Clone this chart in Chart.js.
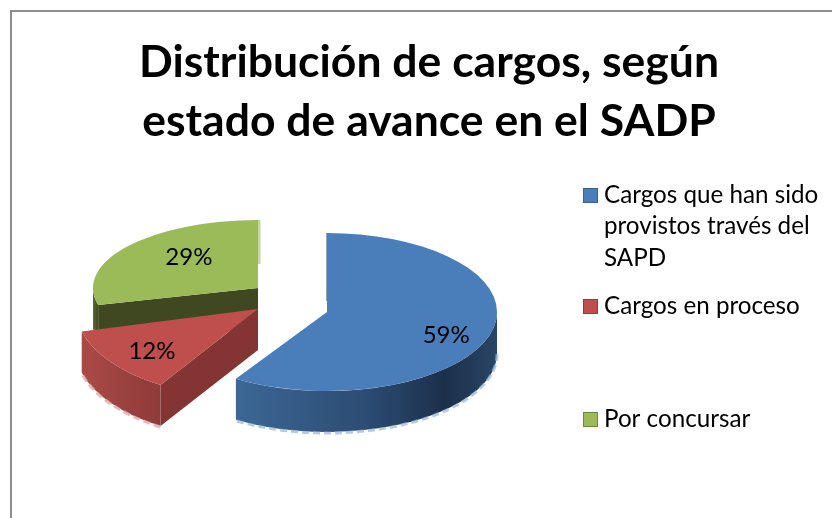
<!DOCTYPE html>
<html>
<head>
<meta charset="utf-8">
<title>Distribución de cargos</title>
<script src="https://cdn.jsdelivr.net/npm/chart.js@4"></script>
<style>
    html, body { margin: 0; padding: 0; background: #ffffff; }
    canvas { display: block; }
</style>
</head>
<body>
<canvas id="pieChart" width="832" height="518"></canvas>
<script>
// Chart data
var titleLines = ['Distribución de cargos, según', 'estado de avance en el SADP'];
var categories = ['Cargos que han sido provistos través del SAPD', 'Cargos en proceso', 'Por concursar'];
var legendLines = [['Cargos que han sido', 'provistos través del', 'SAPD'], ['Cargos en proceso'], ['Por concursar']];
var percentValues = [59, 12, 29];

// Colours of each slice
var topColors = ['#4a7ebb', '#be4f4c', '#9bbb59'];
var swatchBorders = ['#39638f', '#933c3a', '#6f8a3c'];
var faceColors = ['#27425f', '#843432', '#404822'];
var fringeColors = ['rgba(150,180,215,0.7)', 'rgba(225,170,170,0.8)', 'rgba(190,210,150,0.6)'];
var rimColors = ['#2a4a70', null, '#c4d6a0'];
var sideStops = [
    [[0, '#3c6795'], [0.5, '#2c4c73'], [0.8, '#1c304b'], [1, '#2a4566']],
    [[0, '#aa4a47'], [1, '#8e3b39']],
    [[0, '#5b6b2e'], [1, '#404822']]
];

// Where each exploded slice sits on the page (3D look, tilted ellipse + depth)
var sliceLayout = [
    {cx: 327, cy: 312, rx: 170, ry: 79, depth: 41, labelR: 0.73, labelDy: 7, rimLen: 68},
    {cx: 258, cy: 309, rx: 182, ry: 90, depth: 41, labelR: 0.72, labelDy: 4, rimLen: 0},
    {cx: 258, cy: 288, rx: 165, ry: 68, depth: 40, labelR: 0.53, labelDy: -9, rimLen: 44}
];
var drawOrder = [2, 0, 1];

// Legend placement
var legendX = 583;
var legendTextX = 604;
var legendRowY = [195, 306, 419];
var legendLineGap = 31.5;

function drawSide(ctx, arc, i) {
    var s = sliceLayout[i];
    var a = Math.max(arc.startAngle, 0);
    var b = Math.min(arc.endAngle, Math.PI);
    var startA = arc.startAngle;

    // cut face, only when it looks towards the viewer
    if (-Math.cos(startA) > 0.01) {
        var ox = s.cx + s.rx * Math.cos(startA);
        var oy = s.cy + s.ry * Math.sin(startA);
        ctx.fillStyle = faceColors[i];
        ctx.beginPath();
        ctx.moveTo(s.cx, s.cy);
        ctx.lineTo(ox, oy);
        ctx.lineTo(ox, oy + s.depth);
        ctx.lineTo(s.cx, s.cy + s.depth);
        ctx.closePath();
        ctx.fill();
    }

    if (b <= a) {
        return;
    }

    // outer wall
    var x0 = s.cx + s.rx * Math.cos(b);
    var x1 = s.cx + s.rx * Math.cos(a);
    var grad = ctx.createLinearGradient(x0, 0, x1, 0);
    sideStops[i].forEach(function (st) {
        grad.addColorStop(st[0], st[1]);
    });
    ctx.fillStyle = grad;
    ctx.beginPath();
    ctx.ellipse(s.cx, s.cy, s.rx, s.ry, 0, a, b);
    ctx.ellipse(s.cx, s.cy + s.depth, s.rx, s.ry, 0, b, a, true);
    ctx.closePath();
    ctx.fill();

    // pale rough edge under the wall
    ctx.strokeStyle = fringeColors[i];
    ctx.lineWidth = 3;
    ctx.setLineDash([7, 4]);
    ctx.beginPath();
    ctx.ellipse(s.cx, s.cy + s.depth + 1, s.rx, s.ry, 0, a, b);
    ctx.stroke();
    ctx.setLineDash([]);
}

// thin rim on the upright cut, seen edge-on
function drawRim(ctx, i) {
    var s = sliceLayout[i];
    if (!rimColors[i]) {
        return;
    }
    ctx.strokeStyle = rimColors[i];
    ctx.lineWidth = 3;
    ctx.beginPath();
    ctx.moveTo(s.cx + 1, s.cy - s.ry);
    ctx.lineTo(s.cx + 1, s.cy - s.ry + s.rimLen);
    ctx.stroke();
}

// Draws the library's arcs squashed and moved apart, on top of their walls
var tiltedPie = {
    id: 'tiltedPie',
    beforeDatasetsDraw: function (chart) {
        var ctx = chart.ctx;
        var arcs = chart.getDatasetMeta(0).data;

        drawOrder.forEach(function (i) {
            var arc = arcs[i];
            var s = sliceLayout[i];
            drawSide(ctx, arc, i);
            drawRim(ctx, i);
            ctx.save();
            ctx.translate(s.cx, s.cy);
            ctx.scale(s.rx / arc.outerRadius, s.ry / arc.outerRadius);
            ctx.translate(-arc.x, -arc.y);
            arc.draw(ctx);
            ctx.restore();
        });

        // percentage labels
        ctx.fillStyle = '#000000';
        ctx.font = '24px Lato';
        ctx.textAlign = 'center';
        ctx.textBaseline = 'middle';
        arcs.forEach(function (arc, i) {
            var s = sliceLayout[i];
            var mid = (arc.startAngle + arc.endAngle) / 2;
            var lx = s.cx + s.rx * s.labelR * Math.cos(mid);
            var ly = s.cy + s.ry * s.labelR * Math.sin(mid) + s.labelDy;
            ctx.fillText(percentValues[i] + '%', lx, ly);
        });
        return false;
    }
};

// Frame + legend, the legend has uneven rows so it is drawn by hand
var frameAndLegend = {
    id: 'frameAndLegend',
    beforeDraw: function (chart) {
        var ctx = chart.ctx;
        ctx.fillStyle = '#8e8e8e';
        ctx.fillRect(10, 10, 822, 2);
        ctx.fillRect(10, 10, 2, 508);
    },
    afterDraw: function (chart) {
        var ctx = chart.ctx;
        ctx.font = '24.2px Lato';
        ctx.textAlign = 'left';
        ctx.textBaseline = 'middle';
        legendLines.forEach(function (lines, i) {
            var y = legendRowY[i];
            ctx.fillStyle = topColors[i];
            ctx.fillRect(legendX, y - 7, 15, 15);
            ctx.strokeStyle = swatchBorders[i];
            ctx.lineWidth = 1;
            ctx.strokeRect(legendX + 0.5, y - 6.5, 14, 14);
            ctx.fillStyle = '#000000';
            lines.forEach(function (line, j) {
                ctx.fillText(line, legendTextX, y + j * legendLineGap);
            });
        });
    }
};

new Chart(document.getElementById('pieChart'), {
    type: 'pie',
    data: {
        labels: categories,
        datasets: [{
            data: percentValues,
            backgroundColor: topColors,
            borderWidth: 0
        }]
    },
    options: {
        responsive: false,
        animation: false,
        layout: {padding: {left: 26}},
        plugins: {
            legend: {display: false},
            tooltip: {enabled: false},
            title: {
                display: true,
                text: titleLines,
                color: '#000000',
                font: {family: 'Lato', size: 44.5, weight: 'bold', lineHeight: 1.326},
                padding: {top: 33, bottom: 10}
            }
        }
    },
    plugins: [tiltedPie, frameAndLegend]
});
</script>
</body>
</html>
